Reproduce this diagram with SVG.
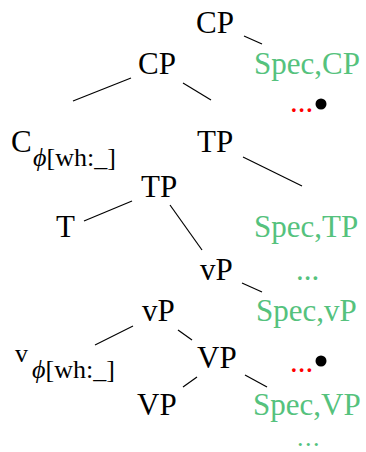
<svg xmlns="http://www.w3.org/2000/svg" width="366" height="452" viewBox="0 0 366 452">
<style>
text{font-family:"Liberation Serif","Times New Roman",serif;font-size:31px;fill:#000}
.g{fill:#55c27d}
.r{fill:#ff0000}
.sub{font-size:26px}
.phi{font-style:italic}
.sm{font-size:26px;letter-spacing:1.5px}
line{stroke:#000;stroke-width:1.2}
</style>
<rect width="366" height="452" fill="#fff"/>
<g id="connectors">
<line x1="244" y1="36" x2="262" y2="44"/>
<line x1="131" y1="78" x2="73" y2="101"/>
<line x1="183" y1="83" x2="211" y2="100"/>
<line x1="243" y1="157" x2="302" y2="186"/>
<line x1="132" y1="201" x2="84" y2="221"/>
<line x1="170" y1="205" x2="202" y2="250"/>
<line x1="242" y1="283" x2="262" y2="292"/>
<line x1="133" y1="326" x2="95" y2="345"/>
<line x1="178" y1="330" x2="192" y2="340"/>
<line x1="197" y1="377" x2="183" y2="387"/>
<line x1="245" y1="375" x2="267" y2="387"/>
</g>
<g id="cp-top"><text x="196" y="33">CP</text></g>
<g id="cp"><text x="138" y="74">CP</text></g>
<g id="spec-cp"><text class="g" x="254" y="74">Spec,CP</text></g>
<g id="dots-cp"><text class="r" x="290" y="112">...</text><circle cx="321" cy="104" r="5.5" fill="#000"/></g>
<g id="c-head"><text x="11" y="152">C</text><text class="sub" x="33" y="166"><tspan class="phi">ϕ</tspan>[wh:_]</text></g>
<g id="tp-top"><text x="197" y="152">TP</text></g>
<g id="tp"><text x="141" y="197">TP</text></g>
<g id="t-head"><text x="56" y="237">T</text></g>
<g id="spec-tp"><text class="g" x="254" y="237">Spec,TP</text></g>
<g id="vp-top"><text x="200" y="280">vP</text></g>
<g id="dots-tp"><text class="g" x="296" y="280">...</text></g>
<g id="spec-vp"><text class="g" x="256" y="321">Spec,vP</text></g>
<g id="vp"><text x="142" y="321">vP</text></g>
<g id="v-head"><text class="sub" x="15" y="362">v</text><text class="sub" x="32" y="378"><tspan class="phi">ϕ</tspan>[wh:_]</text></g>
<g id="VP-top"><text x="197" y="368">VP</text></g>
<g id="dots-vp"><text class="r" x="290" y="372">...</text><circle cx="321" cy="361" r="5.5" fill="#000"/></g>
<g id="VP"><text x="137" y="415">VP</text></g>
<g id="spec-VP"><text class="g" x="253" y="415">Spec,VP</text></g>
<g id="dots-VP"><text class="g sm" x="297" y="446">...</text></g>
</svg>
